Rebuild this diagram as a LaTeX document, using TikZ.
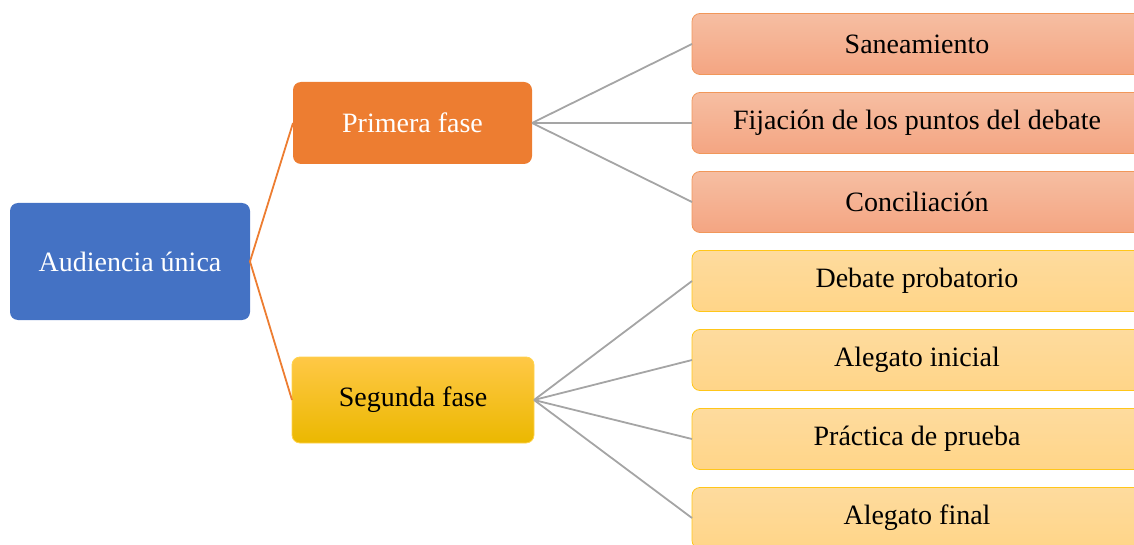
\documentclass[tikz,border=0pt]{standalone}
\usepackage{fontspec}
\setmainfont{Liberation Serif}
\definecolor{rootblue}{HTML}{4472C4}
\definecolor{phaseorange}{HTML}{ED7D31}
\definecolor{phasegold}{HTML}{FFC000}
\definecolor{goldtop}{HTML}{FFC846}
\definecolor{goldlow}{HTML}{EBB800}
\definecolor{peachtop}{HTML}{F6BEA2}
\definecolor{peachlow}{HTML}{F4A582}
\definecolor{creamtop}{HTML}{FEDB9E}
\definecolor{creamlow}{HTML}{FFD588}
\definecolor{linkgray}{HTML}{A5A5A5}
\begin{document}
\begin{tikzpicture}[
  x = 0.5pt, y = -0.5pt,
  box/.style = {
    shape = rectangle,
    rounded corners = 4pt,
    inner sep = 0pt,
    outer sep = 0pt,
    font = \fontsize{14}{16}\selectfont,
  },
  root/.style = {
    box, fill = rootblue, text = white,
    minimum width = 120pt, minimum height = 58.5pt,
  },
  first/.style = {
    box, fill = phaseorange, text = white,
    minimum width = 119.5pt, minimum height = 41pt,
  },
  second/.style = {
    box, draw = phasegold!70!white, line width = 0.4pt,
    top color = goldtop, middle color = phasegold,
    bottom color = goldlow,
    minimum width = 121pt, minimum height = 43pt,
  },
  stepone/.style = {
    box, draw = phaseorange!80!white, line width = 0.4pt,
    top color = peachtop, bottom color = peachlow,
    minimum width = 225pt, minimum height = 30.5pt,
  },
  steptwo/.style = {
    box, draw = phasegold!90!white, line width = 0.4pt,
    top color = creamtop, bottom color = creamlow,
    minimum width = 225pt, minimum height = 30.5pt,
  },
  link/.style = {
    line width = 0.9pt
  }
]
  \clip (0, 0) rectangle (1134, 545);

  \node[root] (audiencia) at (130, 261.5) {Audiencia única};
  \node[first] (primera) at (412.5, 123) {Primera fase};
  \node[second] (segunda) at (413, 400) {Segunda fase};

  \node[stepone] (saneamiento) at (917, 44) {Saneamiento};
  \node[stepone] (fijacion) at (917, 123) {Fijación de los puntos del debate};
  \node[stepone] (conciliacion) at (917, 202) {Conciliación};

  \node[steptwo] (debate) at (917, 281) {Debate probatorio};
  \node[steptwo] (inicial) at (917, 360) {Alegato inicial};
  \node[steptwo] (practica) at (917, 439) {Práctica de prueba};
  \node[steptwo] (final) at (917, 518) {Alegato final};

  \draw[link, phaseorange] (primera.west) -- (audiencia.east) -- (segunda.west);

  \foreach \n in {saneamiento, fijacion, conciliacion}
    \draw[link, linkgray] (primera.east) -- (\n.west);
  \foreach \n in {debate, inicial, practica, final}
    \draw[link, linkgray] (segunda.east) -- (\n.west);
\end{tikzpicture}
\end{document}
